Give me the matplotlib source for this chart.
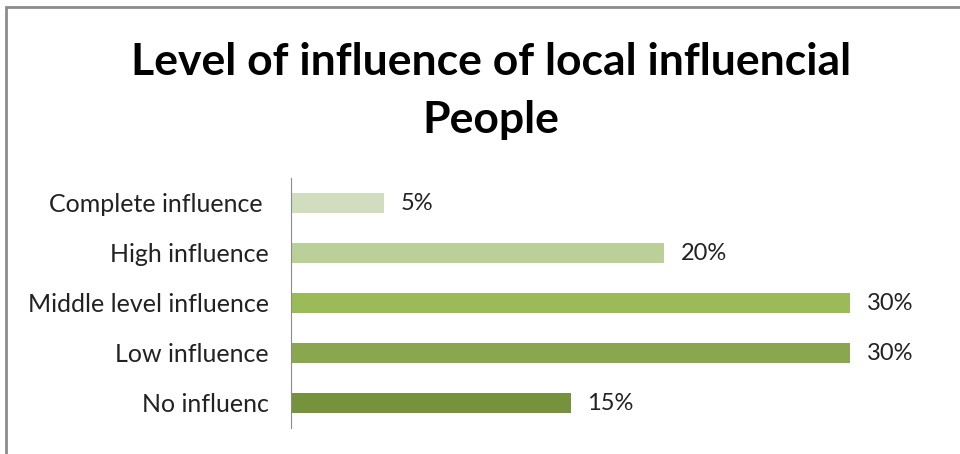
import matplotlib.pyplot as plt
from matplotlib.patches import Rectangle

categories = ['Complete influence ', 'High influence', 'Middle level influence', 'Low influence', 'No influenc']
values = [5, 20, 30, 30, 15]
colors = ['#D0DEBF', '#BBCF98', '#9BBB59', '#8AA64E', '#76923C']

W, H = 960, 454
fig = plt.figure(figsize=(W / 100, H / 100), dpi=100)
plt.rcParams['font.family'] = ['Lato', 'DejaVu Sans']

# outer chart frame (runs off the right and bottom edges)
fig.patches.append(Rectangle((6 / W, -0.1), 1.2, 1.1 - 7 / H, transform=fig.transFigure,
                             fill=False, edgecolor='#8c8c8c', linewidth=2))

ax = fig.add_axes([291 / W, 1 - 428 / H, (940 - 291) / W, 250 / H])
ypos = list(range(len(categories)))
ax.barh(ypos, values, height=0.4, color=colors)
ax.set_ylim(len(categories) - 0.5, -0.5)
ax.set_xlim(0, (940 - 291) / 18.64)
ax.set_yticks(ypos)
ax.set_yticklabels(categories, fontsize=18, color='#222222')
ax.tick_params(axis='y', length=0, pad=16)
ax.set_xticks([])
for s in ['top', 'right', 'bottom']:
    ax.spines[s].set_visible(False)
ax.spines['left'].set_color('#8c8c8c')
for y, v in zip(ypos, values):
    ax.text(v + 0.9, y, f'{v}%', va='center', ha='left', fontsize=17, color='#222222')

fig.text(491 / W, 1 - 91 / H, 'Level of influence of local influencial\nPeople', ha='center', va='center',
         fontsize=32, fontweight='bold', linespacing=1.55)

fig.savefig('out.png', dpi=100)
